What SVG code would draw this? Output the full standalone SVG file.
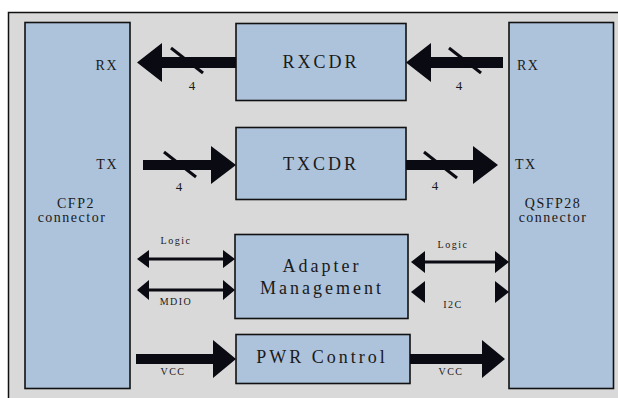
<svg xmlns="http://www.w3.org/2000/svg" width="618" height="398" viewBox="0 0 618 398">
<defs>
<style>
.box{fill:#adc2db;stroke:#111;stroke-width:1.6}
.arr{fill:#0a0a12}
.sl{stroke:#0a0a12;stroke-width:3}
.t{font-family:"Liberation Serif","Times New Roman",serif;fill:#1a1a1a}
.big{font-size:18px;letter-spacing:3px}
.mid{font-size:14px;letter-spacing:1.5px}
.sm{font-size:10px;letter-spacing:1.5px}
.num{font-size:13px}
</style>
</defs>
<rect width="618" height="398" fill="#ffffff"/>
<rect x="8.5" y="12.5" width="620" height="400" fill="#d9d9d9" stroke="#111" stroke-width="1.5"/>

<g id="cfp2">
<rect class="box" x="25" y="22.5" width="105" height="366"/>
<text class="t mid" x="118" y="70" text-anchor="end">RX</text>
<text class="t mid" x="118" y="169" text-anchor="end">TX</text>
<text class="t mid" x="76" y="208" text-anchor="middle">CFP2</text>
<text class="t mid" x="72" y="222" text-anchor="middle">connector</text>
</g>

<g id="qsfp28">
<rect class="box" x="509" y="22.5" width="104.5" height="366"/>
<text class="t mid" x="517" y="70">RX</text>
<text class="t mid" x="515" y="169">TX</text>
<text class="t mid" x="553" y="208" text-anchor="middle">QSFP28</text>
<text class="t mid" x="553" y="222" text-anchor="middle">connector</text>
</g>

<g id="rxcdr">
<rect class="box" x="236" y="23.5" width="170" height="77"/>
<text class="t big" x="321" y="68" text-anchor="middle">RXCDR</text>
</g>

<g id="txcdr">
<rect class="box" x="236" y="127.5" width="170" height="72"/>
<text class="t big" x="321" y="170" text-anchor="middle">TXCDR</text>
</g>

<g id="adapter">
<rect class="box" x="235" y="234.5" width="173" height="84"/>
<text class="t big" x="322" y="272" text-anchor="middle">Adapter</text>
<text class="t big" x="322" y="294" text-anchor="middle">Management</text>
</g>

<g id="pwr">
<rect class="box" x="236" y="334.5" width="174" height="49"/>
<text class="t big" x="322" y="363" text-anchor="middle">PWR Control</text>
</g>

<g id="connectors">
<polygon class="arr" points="137,62.5 162,43 162,57 236,57 236,68 162,68 162,82"/>
<line class="sl" x1="171" y1="48" x2="203" y2="73"/>
<text class="t num" x="192" y="90" text-anchor="middle">4</text>

<polygon class="arr" points="406,62.5 431,43 431,57 503,57 503,68 431,68 431,82"/>
<line class="sl" x1="449" y1="48" x2="481" y2="73"/>
<text class="t num" x="459" y="90" text-anchor="middle">4</text>

<polygon class="arr" points="236,165 211,146 211,160 143,160 143,170 211,170 211,184"/>
<line class="sl" x1="164" y1="152" x2="196" y2="177"/>
<text class="t num" x="179" y="191" text-anchor="middle">4</text>

<polygon class="arr" points="498,165 473,146 473,160 406,160 406,170 473,170 473,184"/>
<line class="sl" x1="424" y1="152" x2="457" y2="178"/>
<text class="t num" x="435" y="190" text-anchor="middle">4</text>

<polygon class="arr" points="137,259 149,250 149,257.5 223,257.5 223,250 235,259 223,268 223,260.5 149,260.5 149,268"/>
<text class="t sm" x="176" y="244" text-anchor="middle">Logic</text>
<polygon class="arr" points="137,290 149,280 149,288.5 223,288.5 223,280 235,290 223,300 223,291.5 149,291.5 149,300"/>
<text class="t sm" x="176" y="305" text-anchor="middle">MDIO</text>

<polygon class="arr" points="411,262 425,251 425,260.5 495,260.5 495,251 509,262 495,273 495,263.5 425,263.5 425,273"/>
<text class="t sm" x="453" y="248" text-anchor="middle">Logic</text>
<polygon class="arr" points="411,292 425,281 425,303"/>
<polygon class="arr" points="509,292 495,281 495,303"/>
<text class="t sm" x="453" y="308" text-anchor="middle">I2C</text>

<polygon class="arr" points="236,359 213,340 213,354 136,354 136,364 213,364 213,378"/>
<text class="t sm" x="173" y="375" text-anchor="middle">VCC</text>
<polygon class="arr" points="505,359 482,340 482,354 410,354 410,364 482,364 482,378"/>
<text class="t sm" x="451" y="375" text-anchor="middle">VCC</text>
</g>
</svg>
